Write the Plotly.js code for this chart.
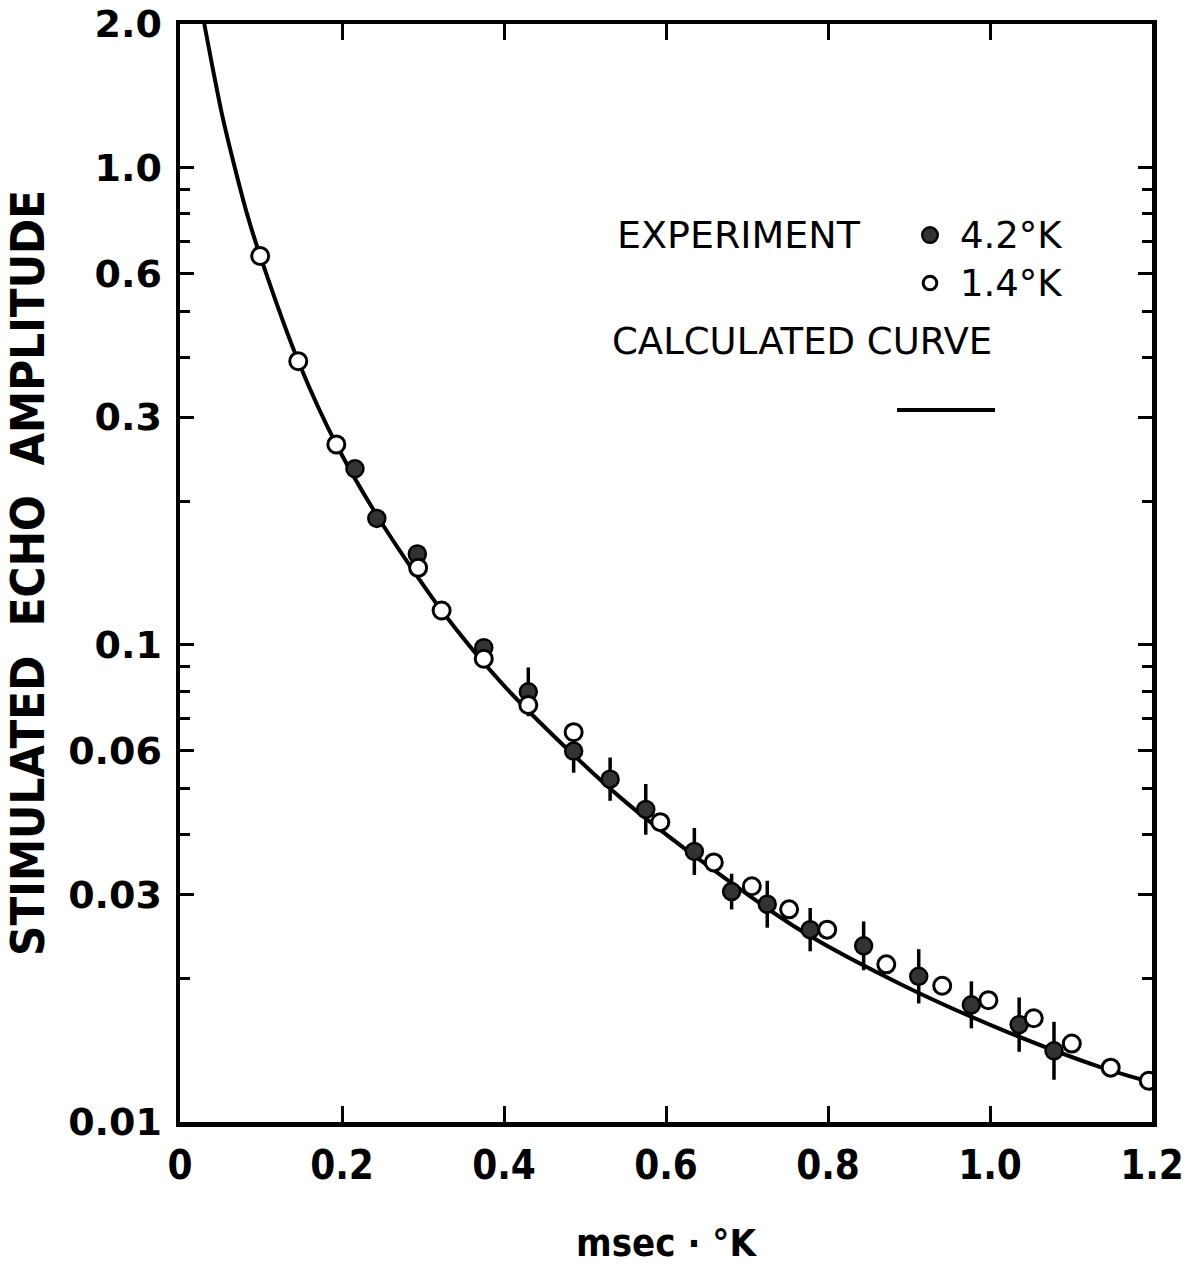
<!DOCTYPE html>
<html>
<head>
<meta charset="utf-8">
<script src="https://cdn.plot.ly/plotly-3.0.1.min.js"></script>
<style>
  html, body { margin: 0; padding: 0; background: #ffffff; }
  #chart { width: 1192px; height: 1272px; }
</style>
</head>
<body>
<div id="chart"></div>
<script>
// ---- Data ----
// Calculated curve (msec·°K, stimulated echo amplitude)
var curveX = [0.030, 0.0395, 0.052, 0.0667, 0.083, 0.099, 0.146, 0.194, 0.249, 0.323, 0.398, 0.472, 0.546, 0.644, 0.768, 0.891, 1.015, 1.138, 1.200];
var curveY = [2.00, 1.645, 1.29, 1.015, 0.797, 0.653, 0.393, 0.261, 0.180, 0.118, 0.0828, 0.0619, 0.0475, 0.0352, 0.0251, 0.0194, 0.0156, 0.0130, 0.0121];

// Experiment, 4.2 °K (filled circles)
var x42 = [0.216, 0.243, 0.293, 0.375, 0.430, 0.486, 0.531, 0.575, 0.635, 0.681, 0.725, 0.778, 0.844, 0.912, 0.977, 1.036, 1.079];
var y42 = [0.234, 0.184, 0.155, 0.0986, 0.0797, 0.0599, 0.0523, 0.0452, 0.0369, 0.0304, 0.0286, 0.0253, 0.0234, 0.0202, 0.0176, 0.0160, 0.0141];
// relative half-length of the vertical error bars (fraction), 0 = no bar
var err42 = [0, 0, 0, 0, 0.125, 0.11, 0.11, 0.13, 0.12, 0.09, 0.12, 0.11, 0.125, 0.14, 0.12, 0.14, 0.15];

// Experiment, 1.4 °K (open circles)
var x14 = [0.099, 0.146, 0.193, 0.294, 0.323, 0.375, 0.430, 0.486, 0.593, 0.659, 0.706, 0.752, 0.799, 0.872, 0.941, 0.998, 1.054, 1.101, 1.149, 1.196];
var y14 = [0.653, 0.393, 0.263, 0.145, 0.118, 0.0935, 0.0748, 0.0656, 0.0425, 0.0350, 0.0312, 0.0279, 0.0253, 0.0214, 0.0193, 0.0180, 0.0165, 0.0146, 0.0130, 0.0122];

// Tick labels
var xTickVals = [0, 0.2, 0.4, 0.6, 0.8, 1.0, 1.2];
var xTickText = ['0', '0.2', '0.4', '0.6', '0.8', '1.0', '1.2'];
var yTickVals = [0.01, 0.03, 0.06, 0.1, 0.3, 0.6, 1.0, 2.0];
var yTickText = ['0.01', '0.03', '0.06', '0.1', '0.3', '0.6', '1.0', '2.0'];
var yMinorVals = [0.02, 0.04, 0.05, 0.07, 0.08, 0.09, 0.2, 0.4, 0.5, 0.7, 0.8, 0.9];

// ---- Build traces ----
var errUp = y42.map(function (v, i) { return v * err42[i]; });
var errDown = y42.map(function (v, i) { return v - v / (1 + err42[i]); });

var FONT = 'DejaVu Sans Condensed, DejaVu Sans, Liberation Sans, sans-serif';
var FONTW = 'DejaVu Sans, Liberation Sans, sans-serif';

var traces = [
  {
    x: curveX, y: curveY, type: 'scatter', mode: 'lines',
    line: { color: '#000', width: 4, shape: 'spline', smoothing: 0.8 },
    hoverinfo: 'skip', showlegend: false
  },
  {
    x: x42, y: y42, type: 'scatter', mode: 'markers',
    marker: { symbol: 'circle', size: 17, color: '#333', line: { color: '#000', width: 2.5 } },
    error_y: { type: 'data', symmetric: false, array: errUp, arrayminus: errDown,
               color: '#000', thickness: 3.5, width: 0 },
    showlegend: false
  },
  {
    x: x14, y: y14, type: 'scatter', mode: 'markers',
    marker: { symbol: 'circle', size: 17, color: '#fff', line: { color: '#000', width: 3 } },
    showlegend: false
  }
];

var axisCommon = {
  showline: true, linecolor: '#000', linewidth: 4.5, mirror: 'allticks',
  ticks: 'inside', tickcolor: '#000', tickwidth: 3,
  showgrid: false, zeroline: false
};

var layout = {
  width: 1192, height: 1272,
  margin: { l: 180, r: 40, t: 24, b: 150 },
  paper_bgcolor: '#fff', plot_bgcolor: '#fff',
  showlegend: false,
  xaxis: Object.assign({}, axisCommon, {
    range: [0, 1.2],
    tickmode: 'array', tickvals: xTickVals, ticktext: xTickText,
    ticklen: 16, ticklabelstandoff: 4,
    tickfont: { family: FONT, size: 40, color: '#000', weight: 'bold' },
    title: { text: 'msec · °K', standoff: 44,
             font: { family: FONT, size: 38, color: '#000', weight: 'bold' } }
  }),
  yaxis: Object.assign({}, axisCommon, {
    type: 'log', range: [-2, Math.log10(2)],
    tickmode: 'array', tickvals: yTickVals, ticktext: yTickText,
    ticklen: 14, ticklabelstandoff: 6,
    tickfont: { family: FONTW, size: 38, color: '#000', weight: 'bold' },
    minor: { tickmode: 'array', tickvals: yMinorVals, ticks: 'inside', ticklen: 10,
             tickwidth: 3, tickcolor: '#000', showgrid: false },
    title: { text: 'STIMULATED  ECHO  AMPLITUDE', standoff: 16,
             font: { family: FONT, size: 47, color: '#000', weight: 'bold' } }
  }),
  annotations: [
    { xref: 'paper', yref: 'paper', x: 0.4475, y: 0.8078, xanchor: 'left', yanchor: 'middle',
      text: 'EXPERIMENT', showarrow: false, font: { family: FONTW, size: 38, color: '#000' } },
    { xref: 'paper', yref: 'paper', x: 0.8004, y: 0.8078, xanchor: 'left', yanchor: 'middle',
      text: '4.2°K', showarrow: false, font: { family: FONTW, size: 37, color: '#000' } },
    { xref: 'paper', yref: 'paper', x: 0.8004, y: 0.7641, xanchor: 'left', yanchor: 'middle',
      text: '1.4°K', showarrow: false, font: { family: FONTW, size: 37, color: '#000' } },
    { xref: 'paper', yref: 'paper', x: 0.4424, y: 0.7104, xanchor: 'left', yanchor: 'middle',
      text: 'CALCULATED CURVE', showarrow: false, font: { family: FONTW, size: 37, color: '#000' } }
  ],
  shapes: [
    { type: 'circle', xref: 'paper', yref: 'paper',
      x0: 0.7716 - 0.0080, x1: 0.7716 + 0.0080, y0: 0.8078 - 0.0071, y1: 0.8078 + 0.0071,
      fillcolor: '#333', line: { color: '#000', width: 2.5 } },
    { type: 'circle', xref: 'paper', yref: 'paper',
      x0: 0.7716 - 0.0070, x1: 0.7716 + 0.0070, y0: 0.7641 - 0.0062, y1: 0.7641 + 0.0062,
      fillcolor: '#fff', line: { color: '#000', width: 3 } },
    { type: 'line', xref: 'paper', yref: 'paper',
      x0: 0.7377, x1: 0.8385, y0: 0.6485, y1: 0.6485,
      line: { color: '#000', width: 4 } }
  ]
};

Plotly.newPlot('chart', traces, layout, { displayModeBar: false, staticPlot: true });
</script>
</body>
</html>
